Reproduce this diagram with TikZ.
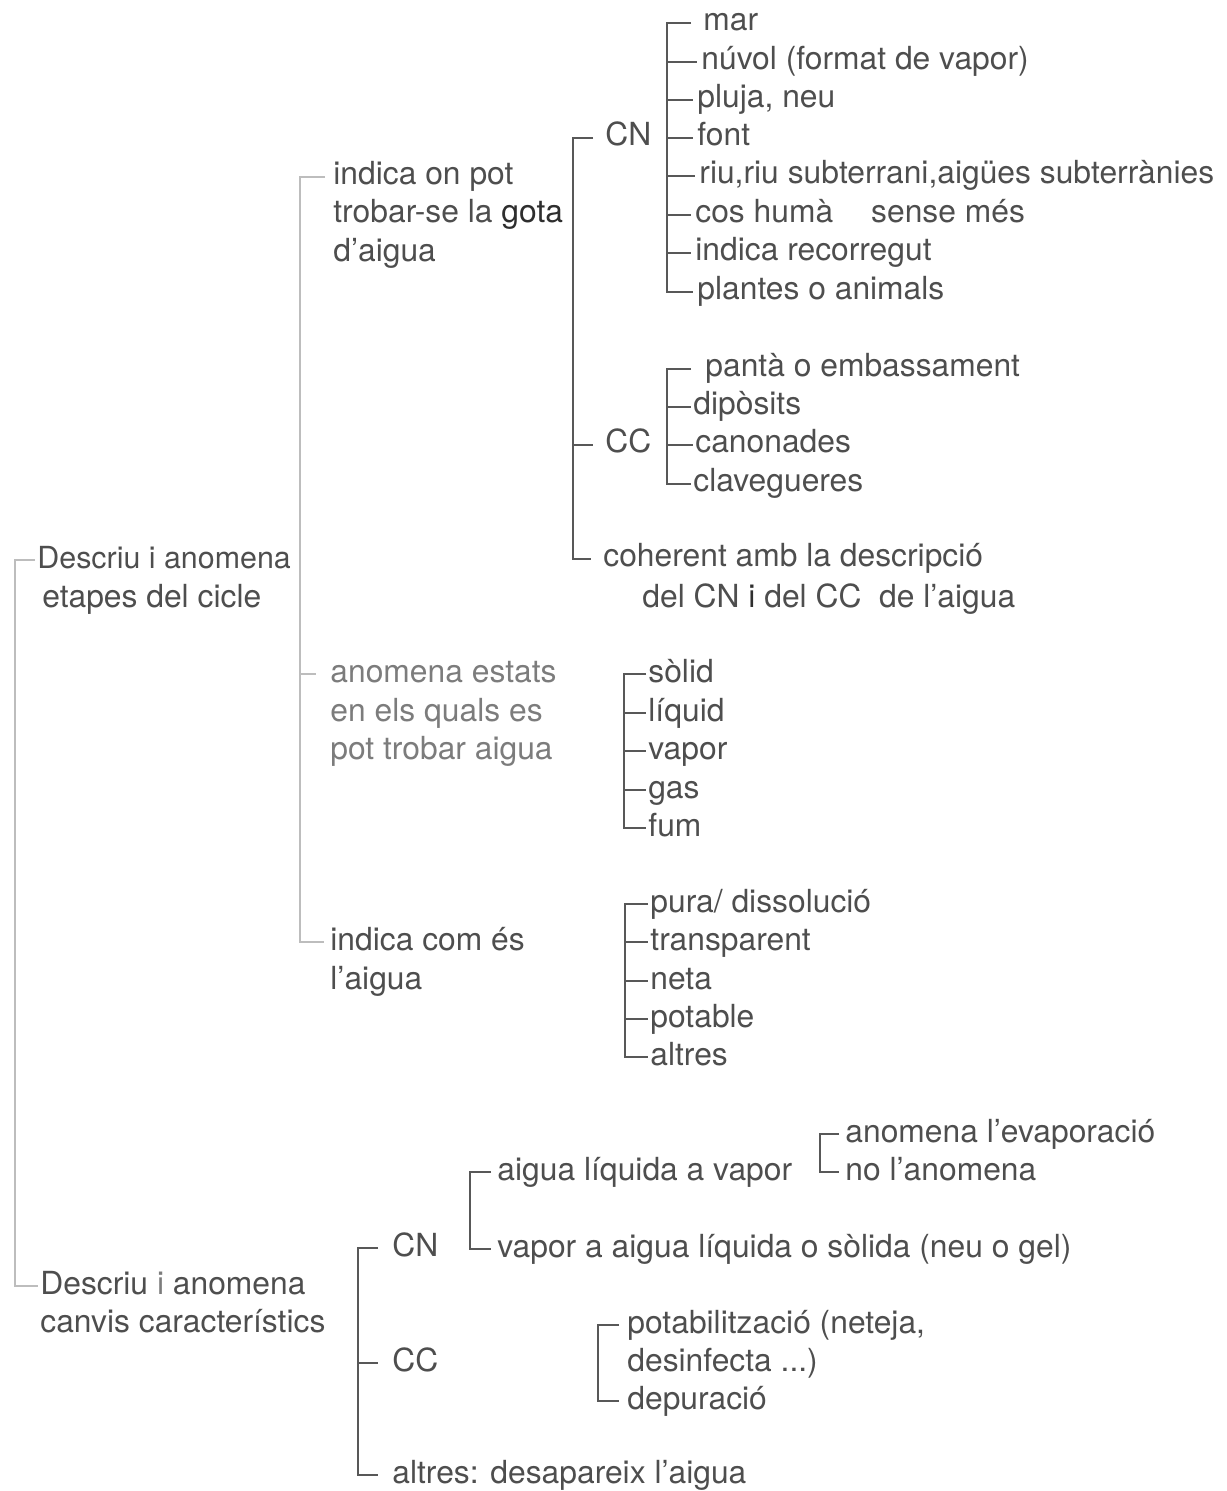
\documentclass[tikz,border=0pt]{standalone}
\usepackage{fontspec}
\setmainfont{TeX Gyre Heros}
\definecolor{txt}{HTML}{4E4E4E}
\definecolor{txtl}{HTML}{7C7C7C}
\definecolor{txtd}{HTML}{2E2E2E}
\definecolor{lnd}{HTML}{585858}
\definecolor{lnl}{HTML}{BDBDBD}
\newcommand{\fnt}{\fontsize{15.9}{19}\selectfont}
\newcommand{\fnts}{\fontsize{15.2}{19}\selectfont}
\begin{document}
\begin{tikzpicture}[x=0.5pt,y=-0.5pt,
  lbl/.style={anchor=west,inner sep=0pt,text height=11pt,text depth=3pt,font=\fnt,text=txt},
  lbll/.style={lbl,text=txtl},
  br/.style={draw=lnd,line width=0.7pt},
  brl/.style={draw=lnl,line width=1pt}]
\useasboundingbox (0,0) rectangle (1226,1491);
\begin{scope}[yshift=-1pt]
% level 0
\node[lbl,font=\fnts] (d1a) at (37,558) {Descriu i anomena};
\node[lbl] (d1b) at (42,597) {etapes del cicle};
\node[lbl] (d2a) at (40,1284) {Descriu {\color{txtl}i} anomena};
\node[lbl] (d2b) at (40,1322) {canvis característics};

% level 1
\node[lbl] (i1a) at (333,175) {indica on pot};
\node[lbl] (i1b) at (333,213) {trobar-se la {\color{txtd}gota}};
\node[lbl] (i1c) at (333,252) {d’aigua};
\node[lbll] (e1a) at (330,672) {anomena estats};
\node[lbll] (e1b) at (330,711) {en els quals es};
\node[lbll] (e1c) at (330,749) {pot trobar aigua};
\node[lbl] (c1a) at (330,940) {indica com és};
\node[lbl] (c1b) at (330,979) {l’aigua};

% level 2 (where)
\node[lbl] (cn1) at (605,136) {CN};
\node[lbl] (cc1) at (605,443) {CC};
\node[lbl] (coh1) at (603,557) {coherent amb la descripció};
\node[lbl] (coh2) at (642,597) {del CN {\color{txtd}i} del CC\ \ de l’aigua};

% CN items
\node[lbl] (n1) at (703,21) {mar};
\node[lbl] (n2) at (701,60) {núvol (format de vapor)};
\node[lbl] (n3) at (697,98) {pluja, neu};
\node[lbl] (n4) at (697,136) {font};
\node[lbl] (n5) at (699,174) {riu,riu subterrani,aigües subterrànies};
\node[lbl] (n6) at (695,213) {cos humà\hspace{19pt}sense més};
\node[lbl] (n7) at (695,251) {indica recorregut};
\node[lbl] (n8) at (697,290) {plantes o animals};

% CC items
\node[lbl] (k1) at (705,367) {pantà o embassament};
\node[lbl] (k2) at (693,405) {dipòsits};
\node[lbl] (k3) at (695,443) {canonades};
\node[lbl] (k4) at (693,482) {clavegueres};

% states
\node[lbl] (s1) at (648,672) {sòlid};
\node[lbl] (s2) at (648,711) {líquid};
\node[lbl] (s3) at (648,749) {vapor};
\node[lbl] (s4) at (648,788) {gas};
\node[lbl] (s5) at (648,826) {fum};

% how
\node[lbl] (h1) at (650,902) {pura/ dissolució};
\node[lbl] (h2) at (650,940) {transparent};
\node[lbl] (h3) at (650,979) {neta};
\node[lbl] (h4) at (650,1017) {potable};
\node[lbl] (h5) at (650,1055) {altres};

% bottom
\node[lbl] (cn2) at (392,1246) {CN};
\node[lbl] (cc2) at (392,1361) {CC};
\node[lbl] (alt) at (392,1473) {altres: desapareix l’aigua};
\node[lbl] (aq) at (497,1170) {aigua líquida a vapor};
\node[lbl] (vp) at (497,1247) {vapor a aigua líquida o sòlida (neu o gel)};
\node[lbl] (ev) at (845,1132) {anomena l’evaporació};
\node[lbl] (no) at (845,1170) {no l’anomena};
\node[lbl] (p1) at (627,1323) {potabilització (neteja,};
\node[lbl] (p2) at (627,1361) {desinfecta ...)};
\node[lbl] (p3) at (627,1399) {depuració};

% bracket x positions
\coordinate (b0) at (15,0);
\coordinate (b1) at (300,0);
\coordinate (b2) at (573,0);
\coordinate (b3) at (667,0);
\coordinate (b4) at (624,0);
\coordinate (b5) at (625,0);
\coordinate (b6) at (358,0);
\coordinate (b7) at (470,0);
\coordinate (b8) at (820,0);
\coordinate (b9) at (598,0);

% main bracket
\draw[brl] ([xshift=-1pt]d1a.west) -- (d1a.west -| b0) -- (d2a.west -| b0) -- ([xshift=-1pt]d2a.west);
% level1 bracket
\draw[brl] ([xshift=-4pt]i1a.west) -- (i1a.west -| b1) -- (c1a.west -| b1) -- ([xshift=-3pt]c1a.west);
\draw[brl] (e1a.west -| b1) -- ([xshift=-7pt]e1a.west);
% where bracket
\draw[br] ([xshift=-6pt]cn1.west) -- (cn1.west -| b2) -- (coh1.west -| b2) -- ([xshift=-6pt]coh1.west);
\draw[br] (cc1.west -| b2) -- ([xshift=-6pt]cc1.west);
% CN items bracket
\draw[br] ([xshift=-6pt]n1.west) -- (n1.west -| b3) -- (n8.west -| b3) -- ([xshift=-2pt]n8.west);
\foreach \n in {n2,n3,n4,n5,n6,n7}{\draw[br] (\n.west -| b3) -- ([xshift=-2pt]\n.west);}
% CC items bracket
\draw[br] ([xshift=-7pt]k1.west) -- (k1.west -| b3) -- (k4.west -| b3) -- ([xshift=-1pt]k4.west);
\foreach \n in {k2,k3}{\draw[br] (\n.west -| b3) -- ([xshift=-1pt]\n.west);}
% states bracket
\draw[br] ([xshift=-1pt]s1.west) -- (s1.west -| b4) -- (s5.west -| b4) -- ([xshift=-1pt]s5.west);
\foreach \n in {s2,s3,s4}{\draw[br] (\n.west -| b4) -- ([xshift=-1pt]\n.west);}
% how bracket
\draw[br] ([xshift=-1pt]h1.west) -- (h1.west -| b5) -- (h5.west -| b5) -- ([xshift=-1pt]h5.west);
\foreach \n in {h2,h3,h4}{\draw[br] (\n.west -| b5) -- ([xshift=-1pt]\n.west);}
% bottom brackets
\draw[br] ([xshift=-7pt]cn2.west) -- (cn2.west -| b6) -- (alt.west -| b6) -- ([xshift=-7pt]alt.west);
\draw[br] (cc2.west -| b6) -- ([xshift=-7pt]cc2.west);
\draw[br] ([xshift=-3pt]aq.west) -- (aq.west -| b7) -- (vp.west -| b7) -- ([xshift=-3pt]vp.west);
\draw[br] ([xshift=-3pt]ev.west) -- (ev.west -| b8) -- (no.west -| b8) -- ([xshift=-3pt]no.west);
\draw[br] ([xshift=-4pt]p1.west) -- (p1.west -| b9) -- (p3.west -| b9) -- ([xshift=-4pt]p3.west);
\end{scope}
\end{tikzpicture}
\end{document}
